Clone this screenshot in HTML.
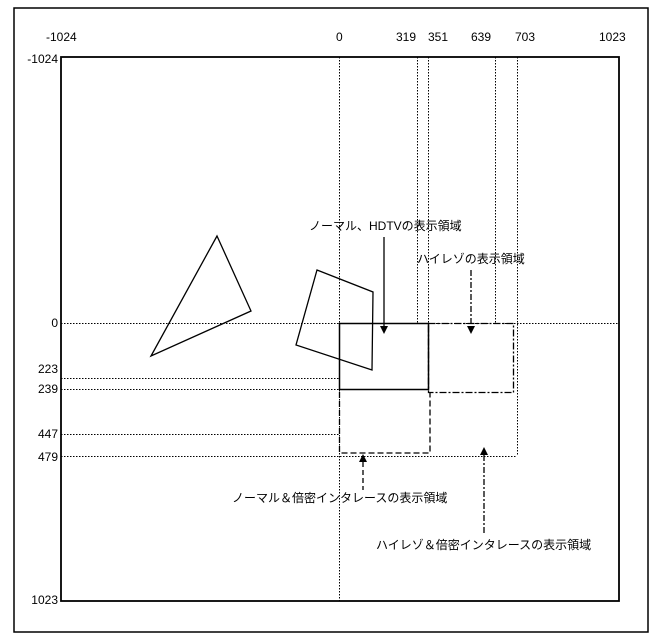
<!DOCTYPE html>
<html><head><meta charset="utf-8"><style>
html,body{margin:0;padding:0;background:#fff;}
svg{display:block}
text{font-family:"Liberation Sans","Noto Sans CJK JP",sans-serif;fill:#000}
</style></head><body>
<svg width="660" height="643" viewBox="0 0 660 643">
<rect x="14" y="8" width="634" height="624" fill="none" stroke="#000" stroke-width="1.5"/>
<rect x="61" y="57" width="558" height="544" fill="none" stroke="#000" stroke-width="1.8"/>
<g font-size="12">
<text x="46" y="41">-1024</text>
<text x="336" y="41">0</text>
<text x="396" y="41">319</text>
<text x="428" y="41">351</text>
<text x="471" y="41">639</text>
<text x="515" y="41">703</text>
<text x="599" y="41">1023</text>
<g text-anchor="end">
<text x="58" y="63">-1024</text>
<text x="58" y="327">0</text>
<text x="58" y="373">223</text>
<text x="58" y="393">239</text>
<text x="58" y="438">447</text>
<text x="58" y="461">479</text>
<text x="58" y="604">1023</text>
</g>
</g>
<g stroke="#000" stroke-width="1" stroke-dasharray="1.5,1.5" fill="none">
<line x1="339.5" y1="57" x2="339.5" y2="601"/>
<line x1="417.5" y1="57" x2="417.5" y2="323"/>
<line x1="428.5" y1="57" x2="428.5" y2="323"/>
<line x1="495.5" y1="57" x2="495.5" y2="323"/>
<line x1="517.5" y1="57" x2="517.5" y2="456"/>
<line x1="61" y1="323.5" x2="619" y2="323.5"/>
<line x1="61" y1="378.5" x2="339" y2="378.5"/>
<line x1="61" y1="389.5" x2="339" y2="389.5"/>
<line x1="61" y1="434.5" x2="339" y2="434.5"/>
<line x1="61" y1="456.5" x2="517" y2="456.5"/>
</g>
<g stroke="#000" stroke-width="1.3" fill="none">
<polygon points="217,236 251,311 151,356"/>
<polygon points="317,270 373,292 372,370 296,345"/>
<rect x="339.5" y="323.5" width="89" height="66" stroke-width="1.5"/>
<rect x="428.5" y="323.5" width="85" height="69" stroke-dasharray="7,2,2,2"/>
<path d="M339.5 392 V453 H430 V392" stroke-dasharray="6,3"/>
<line x1="384" y1="237" x2="384" y2="326"/>
<line x1="471" y1="270" x2="471" y2="326" stroke-dasharray="6,2,2,2"/>
<line x1="363" y1="462" x2="363" y2="490" stroke-dasharray="5,3"/>
<line x1="484" y1="455" x2="484" y2="535" stroke-dasharray="6,2,2,2"/>
</g>
<g fill="#000">
<polygon points="380,326 388,326 384,334"/>
<polygon points="467,326 475,326 471,334"/>
<polygon points="359,462 367,462 363,454"/>
<polygon points="480,455 488,455 484,447"/>
</g>
<g font-size="12">
<text x="309" y="230">ノーマル、HDTVの表示領域</text>
<text x="417" y="263">ハイレゾの表示領域</text>
<text x="232" y="502">ノーマル＆倍密インタレースの表示領域</text>
<text x="376" y="549">ハイレゾ＆倍密インタレースの表示領域</text>
</g>
</svg>
</body></html>
